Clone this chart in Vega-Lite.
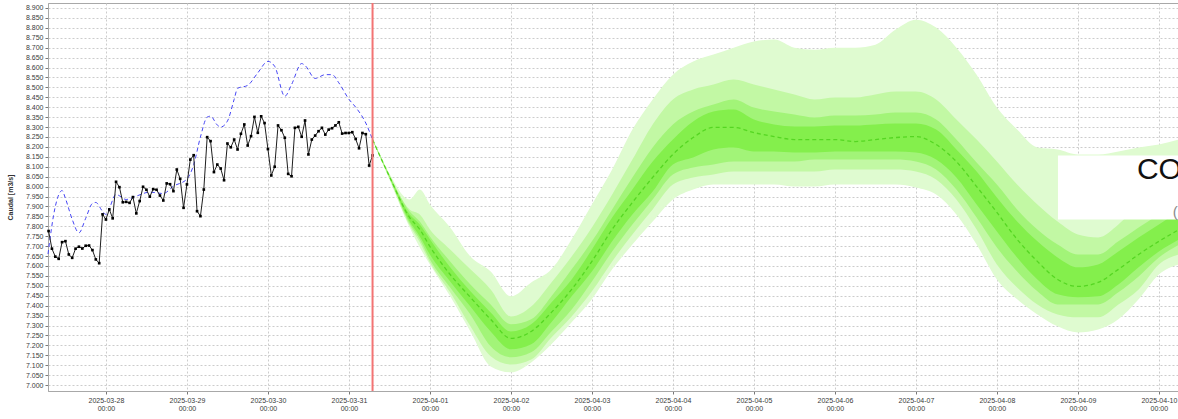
{
  "$schema": "https://vega.github.io/schema/vega-lite/v6.json",
  "width": 1130,
  "height": 388,
  "autosize": "none",
  "padding": {"left": 48, "top": 3, "right": 0, "bottom": 28},
  "background": "white",
  "config": {
    "view": {"stroke": "#a8a8a8"},
    "font": "Liberation Sans",
    "axis": {"labelFontSize": 7, "labelColor": "#3a3a3a", "gridColor": "#cccccc", "gridDash": [2, 2], "domainColor": "#a8a8a8", "tickColor": "#777", "tickSize": 3, "titleFontSize": 7, "titleColor": "#333"}
  },
  "datasets": {
    "obs": [
      {"t": "2025-03-27T07:00:00Z", "v": 7.776}, {"t": "2025-03-27T08:00:00Z", "v": 7.687}, {"t": "2025-03-27T09:00:00Z", "v": 7.647}, {"t": "2025-03-27T10:00:00Z", "v": 7.636},
      {"t": "2025-03-27T11:00:00Z", "v": 7.72}, {"t": "2025-03-27T12:00:00Z", "v": 7.725}, {"t": "2025-03-27T13:00:00Z", "v": 7.658}, {"t": "2025-03-27T14:00:00Z", "v": 7.641},
      {"t": "2025-03-27T15:00:00Z", "v": 7.687}, {"t": "2025-03-27T16:00:00Z", "v": 7.697}, {"t": "2025-03-27T17:00:00Z", "v": 7.688}, {"t": "2025-03-27T18:00:00Z", "v": 7.702},
      {"t": "2025-03-27T19:00:00Z", "v": 7.703}, {"t": "2025-03-27T20:00:00Z", "v": 7.68}, {"t": "2025-03-27T21:00:00Z", "v": 7.633}, {"t": "2025-03-27T22:00:00Z", "v": 7.614},
      {"t": "2025-03-27T23:00:00Z", "v": 7.86}, {"t": "2025-03-28T00:00:00Z", "v": 7.834}, {"t": "2025-03-28T01:00:00Z", "v": 7.885}, {"t": "2025-03-28T02:00:00Z", "v": 7.84},
      {"t": "2025-03-28T03:00:00Z", "v": 8.024}, {"t": "2025-03-28T04:00:00Z", "v": 7.997}, {"t": "2025-03-28T05:00:00Z", "v": 7.921}, {"t": "2025-03-28T06:00:00Z", "v": 7.923},
      {"t": "2025-03-28T07:00:00Z", "v": 7.918}, {"t": "2025-03-28T08:00:00Z", "v": 7.947}, {"t": "2025-03-28T09:00:00Z", "v": 7.865}, {"t": "2025-03-28T10:00:00Z", "v": 7.927},
      {"t": "2025-03-28T11:00:00Z", "v": 7.999}, {"t": "2025-03-28T12:00:00Z", "v": 7.984}, {"t": "2025-03-28T13:00:00Z", "v": 7.949}, {"t": "2025-03-28T14:00:00Z", "v": 7.987},
      {"t": "2025-03-28T15:00:00Z", "v": 7.984}, {"t": "2025-03-28T16:00:00Z", "v": 7.955}, {"t": "2025-03-28T17:00:00Z", "v": 7.93}, {"t": "2025-03-28T18:00:00Z", "v": 8.016},
      {"t": "2025-03-28T19:00:00Z", "v": 8.012}, {"t": "2025-03-28T20:00:00Z", "v": 7.977}, {"t": "2025-03-28T21:00:00Z", "v": 8.086}, {"t": "2025-03-28T22:00:00Z", "v": 8.039},
      {"t": "2025-03-28T23:00:00Z", "v": 7.893}, {"t": "2025-03-29T00:00:00Z", "v": 8.011}, {"t": "2025-03-29T01:00:00Z", "v": 8.136}, {"t": "2025-03-29T02:00:00Z", "v": 8.158},
      {"t": "2025-03-29T03:00:00Z", "v": 7.876}, {"t": "2025-03-29T04:00:00Z", "v": 7.851}, {"t": "2025-03-29T05:00:00Z", "v": 7.985}, {"t": "2025-03-29T06:00:00Z", "v": 8.249},
      {"t": "2025-03-29T07:00:00Z", "v": 8.229}, {"t": "2025-03-29T08:00:00Z", "v": 8.073}, {"t": "2025-03-29T09:00:00Z", "v": 8.111}, {"t": "2025-03-29T10:00:00Z", "v": 8.091},
      {"t": "2025-03-29T11:00:00Z", "v": 8.032}, {"t": "2025-03-29T12:00:00Z", "v": 8.217}, {"t": "2025-03-29T13:00:00Z", "v": 8.198}, {"t": "2025-03-29T14:00:00Z", "v": 8.237},
      {"t": "2025-03-29T15:00:00Z", "v": 8.187}, {"t": "2025-03-29T16:00:00Z", "v": 8.266}, {"t": "2025-03-29T17:00:00Z", "v": 8.313}, {"t": "2025-03-29T18:00:00Z", "v": 8.207},
      {"t": "2025-03-29T19:00:00Z", "v": 8.254}, {"t": "2025-03-29T20:00:00Z", "v": 8.351}, {"t": "2025-03-29T21:00:00Z", "v": 8.271}, {"t": "2025-03-29T22:00:00Z", "v": 8.354},
      {"t": "2025-03-29T23:00:00Z", "v": 8.32}, {"t": "2025-03-30T00:00:00Z", "v": 8.189}, {"t": "2025-03-30T01:00:00Z", "v": 8.056}, {"t": "2025-03-30T02:00:00Z", "v": 8.1},
      {"t": "2025-03-30T03:00:00Z", "v": 8.308}, {"t": "2025-03-30T04:00:00Z", "v": 8.284}, {"t": "2025-03-30T05:00:00Z", "v": 8.246}, {"t": "2025-03-30T06:00:00Z", "v": 8.064},
      {"t": "2025-03-30T07:00:00Z", "v": 8.052}, {"t": "2025-03-30T08:00:00Z", "v": 8.296}, {"t": "2025-03-30T09:00:00Z", "v": 8.301}, {"t": "2025-03-30T10:00:00Z", "v": 8.251},
      {"t": "2025-03-30T11:00:00Z", "v": 8.333}, {"t": "2025-03-30T12:00:00Z", "v": 8.162}, {"t": "2025-03-30T13:00:00Z", "v": 8.237}, {"t": "2025-03-30T14:00:00Z", "v": 8.257},
      {"t": "2025-03-30T15:00:00Z", "v": 8.279}, {"t": "2025-03-30T16:00:00Z", "v": 8.296}, {"t": "2025-03-30T17:00:00Z", "v": 8.262}, {"t": "2025-03-30T18:00:00Z", "v": 8.287},
      {"t": "2025-03-30T19:00:00Z", "v": 8.294}, {"t": "2025-03-30T20:00:00Z", "v": 8.308}, {"t": "2025-03-30T21:00:00Z", "v": 8.324}, {"t": "2025-03-30T22:00:00Z", "v": 8.267},
      {"t": "2025-03-30T23:00:00Z", "v": 8.27}, {"t": "2025-03-31T00:00:00Z", "v": 8.27}, {"t": "2025-03-31T01:00:00Z", "v": 8.274}, {"t": "2025-03-31T02:00:00Z", "v": 8.24},
      {"t": "2025-03-31T03:00:00Z", "v": 8.193}, {"t": "2025-03-31T04:00:00Z", "v": 8.27}, {"t": "2025-03-31T05:00:00Z", "v": 8.264}, {"t": "2025-03-31T06:00:00Z", "v": 8.106},
      {"t": "2025-03-31T07:00:00Z", "v": 8.157}
    ],
    "sim": [
      {"t": "2025-03-27T06:50:00Z", "v": 7.66}, {"t": "2025-03-27T09:00:00Z", "v": 7.9}, {"t": "2025-03-27T11:00:00Z", "v": 7.98}, {"t": "2025-03-27T12:00:00Z", "v": 7.94},
      {"t": "2025-03-27T14:00:00Z", "v": 7.835}, {"t": "2025-03-27T16:00:00Z", "v": 7.767}, {"t": "2025-03-27T18:00:00Z", "v": 7.84}, {"t": "2025-03-27T20:00:00Z", "v": 7.915},
      {"t": "2025-03-27T21:00:00Z", "v": 7.92}, {"t": "2025-03-27T23:00:00Z", "v": 7.875}, {"t": "2025-03-28T00:00:00Z", "v": 7.86}, {"t": "2025-03-28T03:00:00Z", "v": 7.96},
      {"t": "2025-03-28T06:00:00Z", "v": 7.935}, {"t": "2025-03-28T09:00:00Z", "v": 7.952}, {"t": "2025-03-28T13:00:00Z", "v": 7.972}, {"t": "2025-03-28T17:00:00Z", "v": 7.965},
      {"t": "2025-03-28T20:00:00Z", "v": 8.002}, {"t": "2025-03-29T00:00:00Z", "v": 8.038}, {"t": "2025-03-29T02:00:00Z", "v": 8.11}, {"t": "2025-03-29T04:00:00Z", "v": 8.25},
      {"t": "2025-03-29T06:00:00Z", "v": 8.35}, {"t": "2025-03-29T07:00:00Z", "v": 8.355}, {"t": "2025-03-29T09:00:00Z", "v": 8.31}, {"t": "2025-03-29T10:00:00Z", "v": 8.3},
      {"t": "2025-03-29T12:00:00Z", "v": 8.33}, {"t": "2025-03-29T14:00:00Z", "v": 8.44}, {"t": "2025-03-29T15:00:00Z", "v": 8.495}, {"t": "2025-03-29T18:00:00Z", "v": 8.51},
      {"t": "2025-03-29T21:00:00Z", "v": 8.573}, {"t": "2025-03-30T00:00:00Z", "v": 8.631}, {"t": "2025-03-30T02:00:00Z", "v": 8.606}, {"t": "2025-03-30T05:00:00Z", "v": 8.455},
      {"t": "2025-03-30T07:00:00Z", "v": 8.514}, {"t": "2025-03-30T10:00:00Z", "v": 8.62}, {"t": "2025-03-30T11:00:00Z", "v": 8.61}, {"t": "2025-03-30T14:00:00Z", "v": 8.545},
      {"t": "2025-03-30T17:00:00Z", "v": 8.564}, {"t": "2025-03-30T19:00:00Z", "v": 8.564}, {"t": "2025-03-30T21:00:00Z", "v": 8.523}, {"t": "2025-03-31T00:00:00Z", "v": 8.44},
      {"t": "2025-03-31T02:00:00Z", "v": 8.4}, {"t": "2025-03-31T05:00:00Z", "v": 8.32}, {"t": "2025-03-31T07:00:00Z", "v": 8.237}
    ],
    "fc": [
      {"t": "2025-03-31T07:00:00Z", "med": 8.237, "olo": 8.233, "ohi": 8.241, "plo": 8.234, "phi": 8.24, "mlo": 8.235, "mhi": 8.239, "clo": 8.236, "chi": 8.238},
      {"t": "2025-03-31T12:00:00Z", "med": 8.051, "olo": 8.036, "ohi": 8.066, "plo": 8.041, "phi": 8.061, "mlo": 8.046, "mhi": 8.056, "clo": 8.048, "chi": 8.054},
      {"t": "2025-03-31T18:00:00Z", "med": 7.844, "olo": 7.794, "ohi": 7.935, "plo": 7.804, "phi": 7.885, "mlo": 7.814, "mhi": 7.875, "clo": 7.824, "chi": 7.859},
      {"t": "2025-03-31T21:00:00Z", "med": 7.784, "olo": 7.693, "ohi": 7.985, "plo": 7.719, "phi": 7.859, "mlo": 7.734, "mhi": 7.824, "clo": 7.749, "chi": 7.809},
      {"t": "2025-04-01T00:00:00Z", "med": 7.698, "olo": 7.608, "ohi": 7.91, "plo": 7.618, "phi": 7.784, "mlo": 7.633, "mhi": 7.749, "clo": 7.658, "chi": 7.734},
      {"t": "2025-04-01T06:00:00Z", "med": 7.557, "olo": 7.447, "ohi": 7.794, "plo": 7.467, "phi": 7.683, "mlo": 7.492, "mhi": 7.623, "clo": 7.522, "chi": 7.593},
      {"t": "2025-04-01T12:00:00Z", "med": 7.442, "olo": 7.27, "ohi": 7.648, "plo": 7.296, "phi": 7.583, "mlo": 7.356, "mhi": 7.507, "clo": 7.396, "chi": 7.472},
      {"t": "2025-04-01T18:00:00Z", "med": 7.331, "olo": 7.094, "ohi": 7.572, "plo": 7.145, "phi": 7.482, "mlo": 7.195, "mhi": 7.406, "clo": 7.27, "chi": 7.366},
      {"t": "2025-04-02T00:00:00Z", "med": 7.235, "olo": 7.064, "ohi": 7.447, "plo": 7.104, "phi": 7.346, "mlo": 7.14, "mhi": 7.306, "clo": 7.18, "chi": 7.27},
      {"t": "2025-04-02T06:00:00Z", "med": 7.27, "olo": 7.114, "ohi": 7.517, "plo": 7.129, "phi": 7.396, "mlo": 7.165, "mhi": 7.331, "clo": 7.205, "chi": 7.306},
      {"t": "2025-04-02T12:00:00Z", "med": 7.366, "olo": 7.205, "ohi": 7.583, "plo": 7.24, "phi": 7.517, "mlo": 7.27, "mhi": 7.447, "clo": 7.316, "chi": 7.416},
      {"t": "2025-04-02T18:00:00Z", "med": 7.482, "olo": 7.316, "ohi": 7.734, "plo": 7.346, "phi": 7.648, "mlo": 7.381, "mhi": 7.583, "clo": 7.447, "chi": 7.532},
      {"t": "2025-04-03T00:00:00Z", "med": 7.623, "olo": 7.432, "ohi": 7.91, "plo": 7.472, "phi": 7.794, "mlo": 7.522, "mhi": 7.724, "clo": 7.572, "chi": 7.683},
      {"t": "2025-04-03T06:00:00Z", "med": 7.784, "olo": 7.583, "ohi": 8.086, "plo": 7.623, "phi": 7.96, "mlo": 7.673, "mhi": 7.885, "clo": 7.724, "chi": 7.844},
      {"t": "2025-04-03T12:00:00Z", "med": 7.92, "olo": 7.708, "ohi": 8.287, "plo": 7.759, "phi": 8.136, "mlo": 7.809, "mhi": 8.046, "clo": 7.859, "chi": 7.985},
      {"t": "2025-04-03T18:00:00Z", "med": 8.046, "olo": 7.824, "ohi": 8.439, "plo": 7.885, "phi": 8.313, "mlo": 7.935, "mhi": 8.197, "clo": 7.975, "chi": 8.126},
      {"t": "2025-04-04T00:00:00Z", "med": 8.162, "olo": 7.935, "ohi": 8.564, "plo": 8.01, "phi": 8.439, "mlo": 8.061, "mhi": 8.313, "clo": 8.111, "chi": 8.237},
      {"t": "2025-04-04T06:00:00Z", "med": 8.247, "olo": 7.985, "ohi": 8.63, "plo": 8.046, "phi": 8.489, "mlo": 8.096, "mhi": 8.378, "clo": 8.147, "chi": 8.328},
      {"t": "2025-04-04T12:00:00Z", "med": 8.298, "olo": 8.01, "ohi": 8.665, "plo": 8.061, "phi": 8.514, "mlo": 8.111, "mhi": 8.413, "clo": 8.187, "chi": 8.378},
      {"t": "2025-04-04T18:00:00Z", "med": 8.298, "olo": 8.01, "ohi": 8.7, "plo": 8.076, "phi": 8.539, "mlo": 8.126, "mhi": 8.439, "clo": 8.197, "chi": 8.388},
      {"t": "2025-04-05T00:00:00Z", "med": 8.272, "olo": 8.01, "ohi": 8.731, "plo": 8.076, "phi": 8.514, "mlo": 8.126, "mhi": 8.398, "clo": 8.177, "chi": 8.338},
      {"t": "2025-04-05T06:00:00Z", "med": 8.252, "olo": 8.01, "ohi": 8.741, "plo": 8.076, "phi": 8.489, "mlo": 8.126, "mhi": 8.378, "clo": 8.177, "chi": 8.313},
      {"t": "2025-04-05T12:00:00Z", "med": 8.237, "olo": 8.0, "ohi": 8.7, "plo": 8.076, "phi": 8.464, "mlo": 8.126, "mhi": 8.363, "clo": 8.172, "chi": 8.303},
      {"t": "2025-04-05T18:00:00Z", "med": 8.237, "olo": 8.0, "ohi": 8.69, "plo": 8.076, "phi": 8.439, "mlo": 8.136, "mhi": 8.348, "clo": 8.172, "chi": 8.303},
      {"t": "2025-04-06T00:00:00Z", "med": 8.237, "olo": 8.01, "ohi": 8.7, "plo": 8.086, "phi": 8.449, "mlo": 8.136, "mhi": 8.358, "clo": 8.177, "chi": 8.308},
      {"t": "2025-04-06T06:00:00Z", "med": 8.227, "olo": 8.01, "ohi": 8.7, "plo": 8.086, "phi": 8.449, "mlo": 8.136, "mhi": 8.358, "clo": 8.177, "chi": 8.308},
      {"t": "2025-04-06T12:00:00Z", "med": 8.237, "olo": 8.01, "ohi": 8.715, "plo": 8.086, "phi": 8.464, "mlo": 8.136, "mhi": 8.363, "clo": 8.177, "chi": 8.313},
      {"t": "2025-04-06T18:00:00Z", "med": 8.247, "olo": 8.01, "ohi": 8.791, "plo": 8.086, "phi": 8.479, "mlo": 8.136, "mhi": 8.373, "clo": 8.177, "chi": 8.318},
      {"t": "2025-04-07T00:00:00Z", "med": 8.252, "olo": 7.995, "ohi": 8.841, "plo": 8.076, "phi": 8.479, "mlo": 8.126, "mhi": 8.373, "clo": 8.172, "chi": 8.318},
      {"t": "2025-04-07T06:00:00Z", "med": 8.212, "olo": 7.96, "ohi": 8.801, "plo": 8.036, "phi": 8.439, "mlo": 8.086, "mhi": 8.338, "clo": 8.136, "chi": 8.287},
      {"t": "2025-04-07T12:00:00Z", "med": 8.126, "olo": 7.859, "ohi": 8.7, "plo": 7.935, "phi": 8.338, "mlo": 7.985, "mhi": 8.237, "clo": 8.046, "chi": 8.187},
      {"t": "2025-04-07T18:00:00Z", "med": 8.0, "olo": 7.708, "ohi": 8.564, "plo": 7.784, "phi": 8.237, "mlo": 7.844, "mhi": 8.121, "clo": 7.91, "chi": 8.076},
      {"t": "2025-04-08T00:00:00Z", "med": 7.87, "olo": 7.532, "ohi": 8.398, "plo": 7.608, "phi": 8.126, "mlo": 7.693, "mhi": 8.01, "clo": 7.774, "chi": 7.945},
      {"t": "2025-04-08T06:00:00Z", "med": 7.734, "olo": 7.432, "ohi": 8.287, "plo": 7.492, "phi": 8.01, "mlo": 7.572, "mhi": 7.885, "clo": 7.643, "chi": 7.824},
      {"t": "2025-04-08T12:00:00Z", "med": 7.623, "olo": 7.356, "ohi": 8.197, "plo": 7.406, "phi": 7.91, "mlo": 7.472, "mhi": 7.784, "clo": 7.532, "chi": 7.724},
      {"t": "2025-04-08T18:00:00Z", "med": 7.532, "olo": 7.296, "ohi": 8.187, "plo": 7.356, "phi": 7.824, "mlo": 7.406, "mhi": 7.708, "clo": 7.457, "chi": 7.643},
      {"t": "2025-04-09T00:00:00Z", "med": 7.497, "olo": 7.265, "ohi": 8.162, "plo": 7.341, "phi": 7.759, "mlo": 7.406, "mhi": 7.658, "clo": 7.442, "chi": 7.593},
      {"t": "2025-04-09T06:00:00Z", "med": 7.517, "olo": 7.28, "ohi": 8.162, "plo": 7.341, "phi": 7.744, "mlo": 7.406, "mhi": 7.658, "clo": 7.447, "chi": 7.608},
      {"t": "2025-04-09T12:00:00Z", "med": 7.583, "olo": 7.331, "ohi": 8.177, "plo": 7.406, "phi": 7.809, "mlo": 7.467, "mhi": 7.724, "clo": 7.507, "chi": 7.673},
      {"t": "2025-04-09T18:00:00Z", "med": 7.658, "olo": 7.432, "ohi": 8.197, "plo": 7.482, "phi": 7.91, "mlo": 7.547, "mhi": 7.794, "clo": 7.593, "chi": 7.744},
      {"t": "2025-04-10T00:00:00Z", "med": 7.724, "olo": 7.557, "ohi": 8.212, "plo": 7.608, "phi": 7.975, "mlo": 7.643, "mhi": 7.859, "clo": 7.673, "chi": 7.809},
      {"t": "2025-04-10T06:00:00Z", "med": 7.784, "olo": 7.608, "ohi": 8.237, "plo": 7.658, "phi": 8.036, "mlo": 7.708, "mhi": 7.935, "clo": 7.734, "chi": 7.875}
    ],
    "start": [{"t": "2025-03-31T07:00:00Z"}]
  },
  "layer": [
    {
      "data": {"name": "fc"},
      "mark": {"type": "area", "interpolate": "monotone", "color": "#dffbd0", "opacity": 1},
      "encoding": {
        "x": {"field": "t", "type": "temporal",
          "scale": {"type": "utc", "domain": [1743058200000, 1744263600000]},
          "axis": {"title": null, "grid": true, "tickCount": {"interval": "day", "step": 1}, "labelExpr": "[utcFormat(datum.value, '%Y-%m-%d'), utcFormat(datum.value, '%H:%M')]", "labelFlush": false, "labelOverlap": false, "labelPadding": 2, "labelLineHeight": 8}},
        "y": {"field": "olo", "type": "quantitative", "scale": {"domain": [6.97, 8.925], "nice": false, "zero": false},
          "axis": {"title": "Caudal [m3/s]", "titleFontWeight": "bold", "titlePadding": 12, "grid": true, "format": ".3f", "labelOverlap": false, "tickCount": 39,
            "values": [7.0, 7.05, 7.1, 7.15, 7.2, 7.25, 7.3, 7.35, 7.4, 7.45, 7.5, 7.55, 7.6, 7.65, 7.7, 7.75, 7.8, 7.85, 7.9, 7.95, 8.0, 8.05, 8.1, 8.15, 8.2, 8.25, 8.3, 8.35, 8.4, 8.45, 8.5, 8.55, 8.6, 8.65, 8.7, 8.75, 8.8, 8.85, 8.9]}},
        "y2": {"field": "ohi"}
      }
    },
    {
      "data": {"name": "fc"},
      "mark": {"type": "area", "interpolate": "monotone", "color": "#c2f8a4"},
      "encoding": {"x": {"field": "t", "type": "temporal"}, "y": {"field": "plo", "type": "quantitative"}, "y2": {"field": "phi"}}
    },
    {
      "data": {"name": "fc"},
      "mark": {"type": "area", "interpolate": "monotone", "color": "#a2f478"},
      "encoding": {"x": {"field": "t", "type": "temporal"}, "y": {"field": "mlo", "type": "quantitative"}, "y2": {"field": "mhi"}}
    },
    {
      "data": {"name": "fc"},
      "mark": {"type": "area", "interpolate": "monotone", "color": "#84ef4c"},
      "encoding": {"x": {"field": "t", "type": "temporal"}, "y": {"field": "clo", "type": "quantitative"}, "y2": {"field": "chi"}}
    },
    {
      "data": {"name": "fc"},
      "mark": {"type": "line", "interpolate": "monotone", "color": "#55d622", "strokeWidth": 1.3, "strokeDash": [4, 3]},
      "encoding": {"x": {"field": "t", "type": "temporal"}, "y": {"field": "med", "type": "quantitative"}}
    },
    {
      "data": {"name": "sim"},
      "mark": {"type": "line", "interpolate": "monotone", "color": "#4646f5", "strokeWidth": 1, "strokeDash": [4, 3]},
      "encoding": {"x": {"field": "t", "type": "temporal"}, "y": {"field": "v", "type": "quantitative"}}
    },
    {
      "data": {"name": "obs"},
      "mark": {"type": "line", "color": "#1e1e1e", "strokeWidth": 1, "point": {"filled": true, "shape": "square", "size": 7, "color": "#000"}},
      "encoding": {"x": {"field": "t", "type": "temporal"}, "y": {"field": "v", "type": "quantitative"}}
    },
    {
      "data": {"name": "start"},
      "mark": {"type": "rule", "color": "#f37474", "strokeWidth": 2},
      "encoding": {"x": {"field": "t", "type": "temporal"}}
    },
    {
      "data": {"values": [{"a": 1}]},
      "mark": {"type": "rect", "color": "white", "opacity": 1},
      "encoding": {
        "x": {"datum": 1744135560000, "type": "temporal"},
        "x2": {"datum": 1744263600000},
        "y": {"datum": 8.157, "type": "quantitative"},
        "y2": {"datum": 7.834}
      }
    },
    {
      "data": {"values": [{"a": 1}]},
      "mark": {"type": "text", "text": "CO", "fontSize": 30, "align": "left", "baseline": "alphabetic", "color": "#111", "font": "Liberation Sans"},
      "encoding": {
        "x": {"datum": 1744219800000, "type": "temporal"},
        "y": {"datum": 8.036, "type": "quantitative"}
      }
    },
    {
      "data": {"values": [{"a": 1}]},
      "mark": {"type": "text", "text": "(", "fontSize": 15, "align": "left", "baseline": "alphabetic", "color": "#8a8a8a", "font": "Liberation Sans"},
      "encoding": {
        "x": {"datum": 1744257960000, "type": "temporal"},
        "y": {"datum": 7.846, "type": "quantitative"}
      }
    }
  ]
}
